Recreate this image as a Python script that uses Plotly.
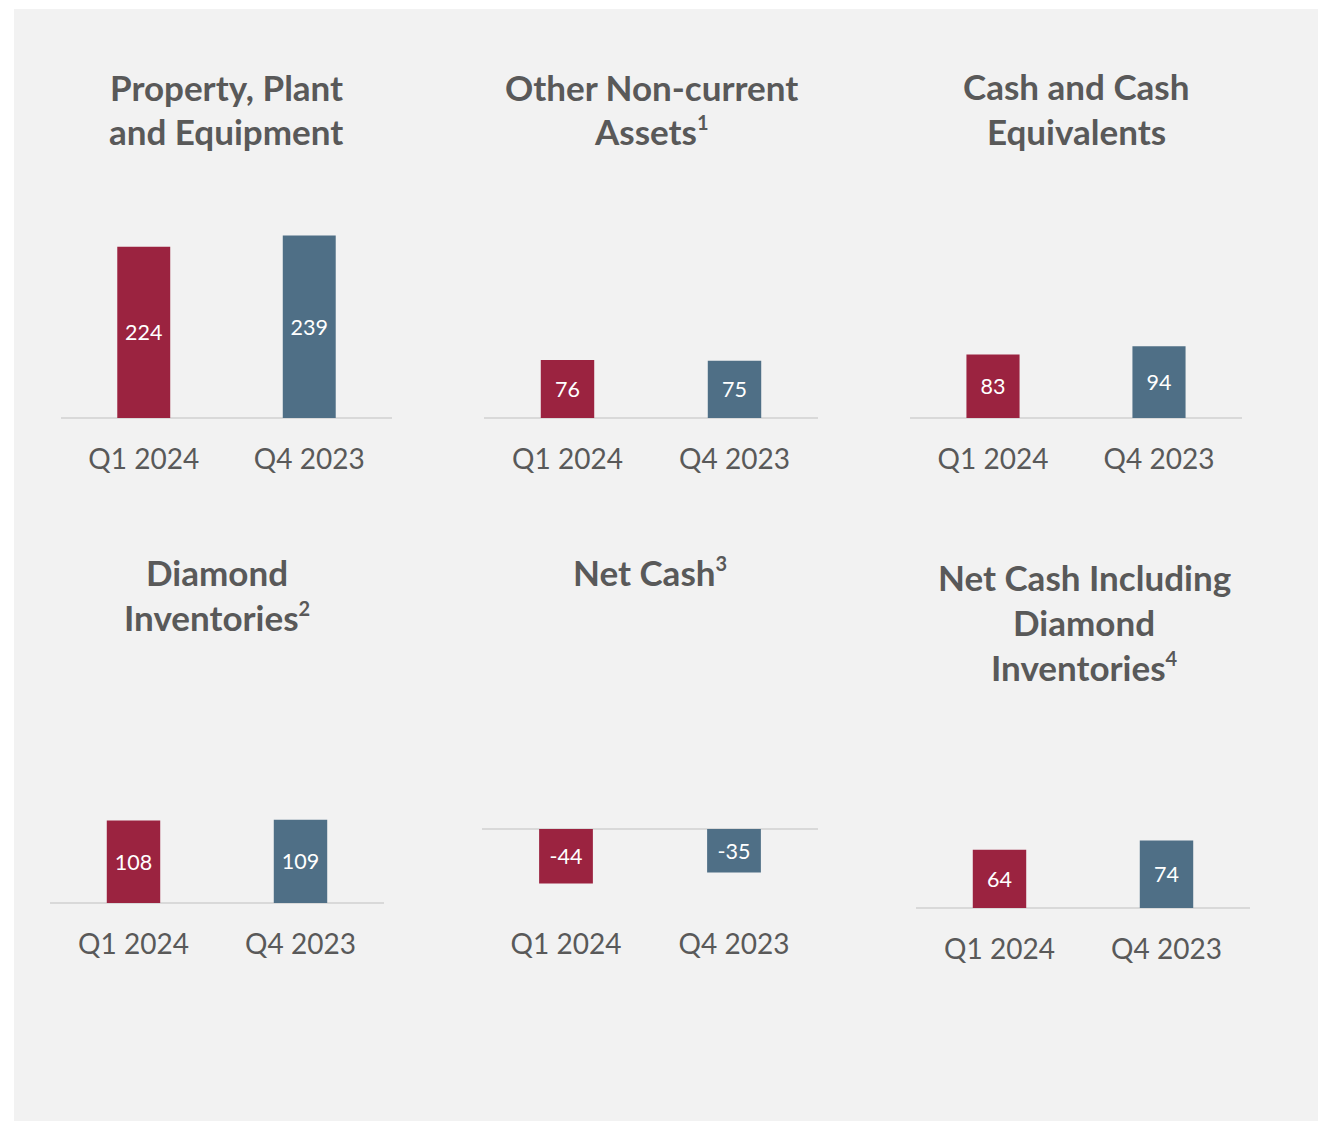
import plotly.graph_objects as go

W, H = 1318, 1121

categories = ["Q1 2024", "Q4 2023"]
ppe = [224, 239]
other_non_current = [76, 75]
cash_equiv = [83, 94]
diamond_inv = [108, 109]
net_cash = [-44, -35]
net_cash_incl = [64, 74]

titles = [
    ["Property, Plant", "and Equipment"],
    ["Other Non-current", "Assets<sup>1</sup>"],
    ["Cash and Cash", "Equivalents"],
    ["Diamond", "Inventories<sup>2</sup>"],
    ["Net Cash<sup>3</sup>"],
    ["Net Cash Including", "Diamond", "Inventories<sup>4</sup>"],
]
series = [ppe, other_non_current, cash_equiv, diamond_inv, net_cash, net_cash_incl]

RED = "#9b2340"
BLUE = "#4f6f86"
GREY = "#595959"
FONT = "Lato"

# layout geometry in pixels: x0, x1, zero line y, px per unit, top y, bottom y
geom = [
    (61, 392, 418, 0.764, 200, 422),
    (484, 818, 418, 0.764, 200, 422),
    (910, 1242, 418, 0.764, 200, 422),
    (50, 384, 903, 0.763, 700, 907),
    (482, 818, 829, 1.24, 700, 907),
    (916, 1250, 908, 0.912, 720, 912),
]
title_pos = [
    (226, [87, 131]),
    (651, [87, 131]),
    (1076, [86, 131]),
    (217, [572, 617]),
    (650, [572]),
    (1084, [577, 622, 667]),
]

fig = go.Figure()
layout = dict(
    width=W, height=H,
    margin=dict(l=0, r=0, t=0, b=0),
    paper_bgcolor="white",
    plot_bgcolor="rgba(0,0,0,0)",
    showlegend=False,
    font=dict(family=FONT, color=GREY),
    shapes=[dict(type="rect", xref="paper", yref="paper",
                 x0=14 / W, x1=1, y0=0, y1=1 - 9 / H,
                 fillcolor="#f2f2f2", line=dict(width=0), layer="below")],
    annotations=[],
)

for i, (vals, g) in enumerate(zip(series, geom)):
    x0, x1, zy, s, ty, by = g
    n = i + 1
    xa = "x" if n == 1 else f"x{n}"
    ya = "y" if n == 1 else f"y{n}"
    fig.add_trace(go.Bar(
        x=categories, y=vals, xaxis=xa, yaxis=ya,
        marker=dict(color=[RED, BLUE], line=dict(width=0)),
        width=0.32,
        text=[str(v) for v in vals],
        textposition="inside", insidetextanchor="middle",
        textangle=0,
        textfont=dict(family=FONT, size=21.5, color="white"),
        hoverinfo="skip",
    ))
    lo = (zy - by) / s
    hi = (zy - ty) / s
    layout[f"xaxis{'' if n == 1 else n}"] = dict(
        domain=[x0 / W, x1 / W], anchor=ya,
        type="category", range=[-0.5, 1.5],
        showline=False, showgrid=False, zeroline=False,
        ticks="", ticklabelstandoff=18,
        tickfont=dict(family=FONT, size=28, color=GREY),
        fixedrange=True,
    )
    layout[f"yaxis{'' if n == 1 else n}"] = dict(
        domain=[1 - by / H, 1 - ty / H], anchor=xa,
        range=[lo, hi],
        showgrid=False, showticklabels=False, showline=False,
        zeroline=True, zerolinecolor="#d9d9d9", zerolinewidth=2,
        fixedrange=True,
    )

for lines, (cx, ys) in zip(titles, title_pos):
    for line, yy in zip(lines, ys):
        txt = line.replace("<sup>", "<sup><span style='font-size:20px'>").replace("</sup>", "</span></sup>")
        layout["annotations"].append(dict(
            text=f"<b>{txt}</b>", xref="paper", yref="paper",
            x=cx / W, y=1 - yy / H, xanchor="center", yanchor="middle",
            showarrow=False,
            font=dict(family=FONT, size=35, color=GREY),
        ))

fig.update_layout(**layout)
fig.write_html("out.html", config={"displayModeBar": False},
               post_script="document.body.style.margin='0';document.body.style.overflow='hidden';")
